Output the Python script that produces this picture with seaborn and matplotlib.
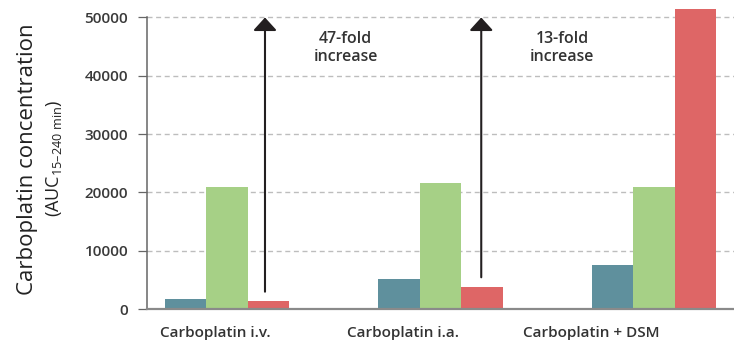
import matplotlib
matplotlib.use("Agg")
import matplotlib.pyplot as plt
import seaborn as sns
import pandas as pd
from matplotlib.patches import ArrowStyle

# Data
categories = ["Carboplatin i.v.", "Carboplatin i.a.", "Carboplatin + DSM"]
series_names = ["A", "B", "C"]
values_a = [1700, 5100, 7500]
values_b = [20900, 21600, 20900]
values_c = [1350, 3800, 51500]
y_ticks = [0, 10000, 20000, 30000, 40000, 50000]
fold_labels = ["47-fold\nincrease", "13-fold\nincrease"]

palette = ["#5f909d", "#a6d086", "#de6666"]

df = pd.DataFrame({
    "category": categories * 3,
    "series": [s for s in series_names for _ in categories],
    "value": values_a + values_b + values_c,
})

sns.set_theme(style="white")
plt.rcParams["font.family"] = ["Open Sans", "DejaVu Sans"]
plt.rcParams["mathtext.fontset"] = "custom"
plt.rcParams["mathtext.rm"] = "Open Sans"
plt.rcParams["lines.scale_dashes"] = False

fig = plt.figure(figsize=(7.34, 3.45), dpi=100)
ax = fig.add_axes([0.1999, 0.1043, 0.8001, 0.8957])

sns.barplot(data=df, x="category", y="value", hue="series", order=categories,
            hue_order=series_names, palette=palette, width=0.583, dodge=True,
            linewidth=0, saturation=1, legend=False, ax=ax, zorder=2)

ax.set_xlim(-0.376, 2.375)
ax.set_ylim(0, 53000)

# horizontal dashed grid
ax.set_yticks(y_ticks)
ax.yaxis.grid(True, color="#bdbdbd", linewidth=1.0, linestyle=(0, (3.6, 2.6)), zorder=0)
ax.set_axisbelow(True)

ax.set_yticklabels([str(v) for v in y_ticks], fontsize=11, fontweight="semibold", color="#3a3a3a")
ax.tick_params(axis="y", which="major", left=True, length=6.8, width=0.9, color="#666666", pad=6.5)

# category labels under the groups
ax.set_xticks([-0.054, 0.824, 1.708])
ax.set_xticklabels(categories, fontsize=11, fontweight="semibold", color="#333333")
ax.tick_params(axis="x", bottom=False, pad=6)
ax.set_xlabel("")
ax.set_ylabel("")

for side in ["top", "right"]:
    ax.spines[side].set_visible(False)
ax.spines["left"].set_bounds(0, 50000)
ax.spines["left"].set_color("#666666")
ax.spines["left"].set_linewidth(1.1)
ax.spines["bottom"].set_color("#8a8a8a")
ax.spines["bottom"].set_linewidth(1.6)
ax.spines["bottom"].set_zorder(3)

# fold-increase arrows
style = ArrowStyle("-|>", head_length=0.79, head_width=0.72)
arrow_x = [0.178, 1.191]
arrow_start = [2970, 5440]
text_x = [0.556, 1.571]
for ax_x, y0, tx, lab in zip(arrow_x, arrow_start, text_x, fold_labels):
    ax.annotate("", xy=(ax_x, 50000), xytext=(ax_x, y0),
                arrowprops=dict(arrowstyle=style, mutation_scale=10, lw=1.5,
                                color="#231f20", shrinkA=0, shrinkB=0),
                zorder=4)
    ax.text(tx, 44800, lab, ha="center", va="center", fontsize=11.5,
            fontweight="semibold", color="#333333", linespacing=1.15)

# y-axis title in two lines
fig.text(0.0375, 0.54, "Carboplatin concentration", rotation=90, ha="center",
         va="center", fontsize=16, color="#222222")
fig.text(0.0736, 0.542, r"(AUC$_{\mathregular{15–240\ min}}$)", rotation=90,
         ha="center", va="center", fontsize=13, color="#222222")

fig.savefig("out.png", dpi=100)
